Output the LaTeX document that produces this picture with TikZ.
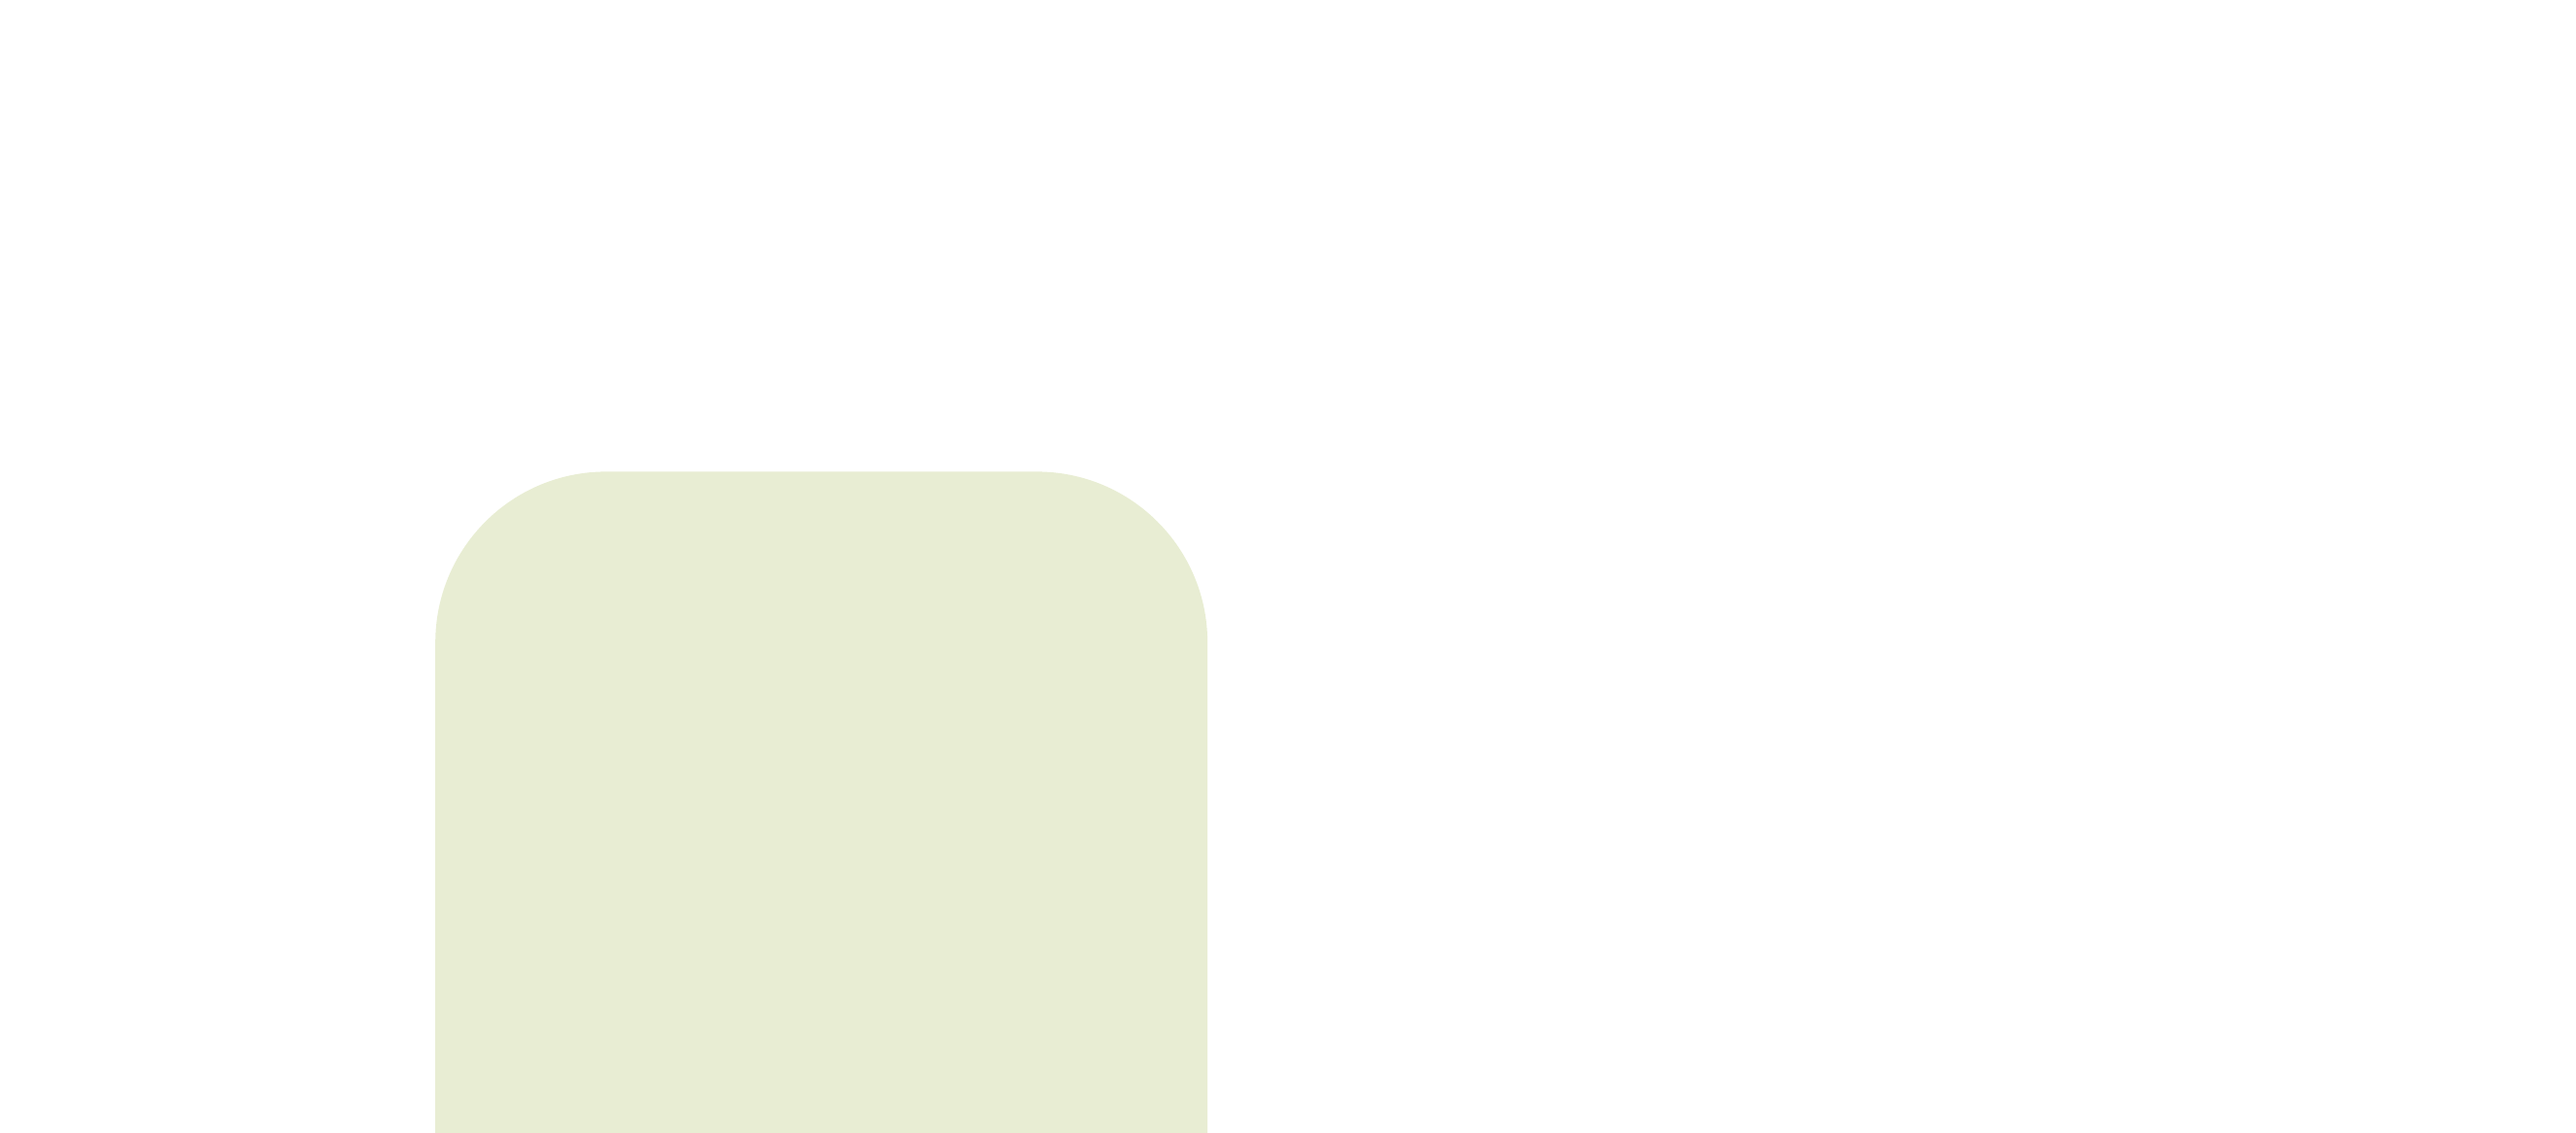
\documentclass[tikz,border=0pt]{standalone}
\usetikzlibrary{arrows.meta}
\definecolor{distColor}{HTML}{D5E5EF}
\definecolor{sensorColor}{HTML}{80F5C8}
\definecolor{ctrlColor}{HTML}{A9C8DC}
\definecolor{adaptColor}{HTML}{E8EDD3}
\definecolor{regionColor}{HTML}{888888}
\tikzset{
  blk/.style={draw, line width=2pt, align=center, inner sep=0pt},
  sig/.style={line width=2pt, -{Triangle[length=20pt,width=15pt]}},
  wire/.style={line width=2pt},
}
\begin{document}
\begin{tikzpicture}[x=0.01691cm,y=-0.01691cm,font=\fontsize{26}{31}\selectfont]
\useasboundingbox (0,0) rectangle (1568,689);

% adaptive region
\fill[adaptColor, rounded corners=50pt] (265,287) rectangle (735,1148/1.691*1.691-0) ;
\end{tikzpicture}
\end{document}
